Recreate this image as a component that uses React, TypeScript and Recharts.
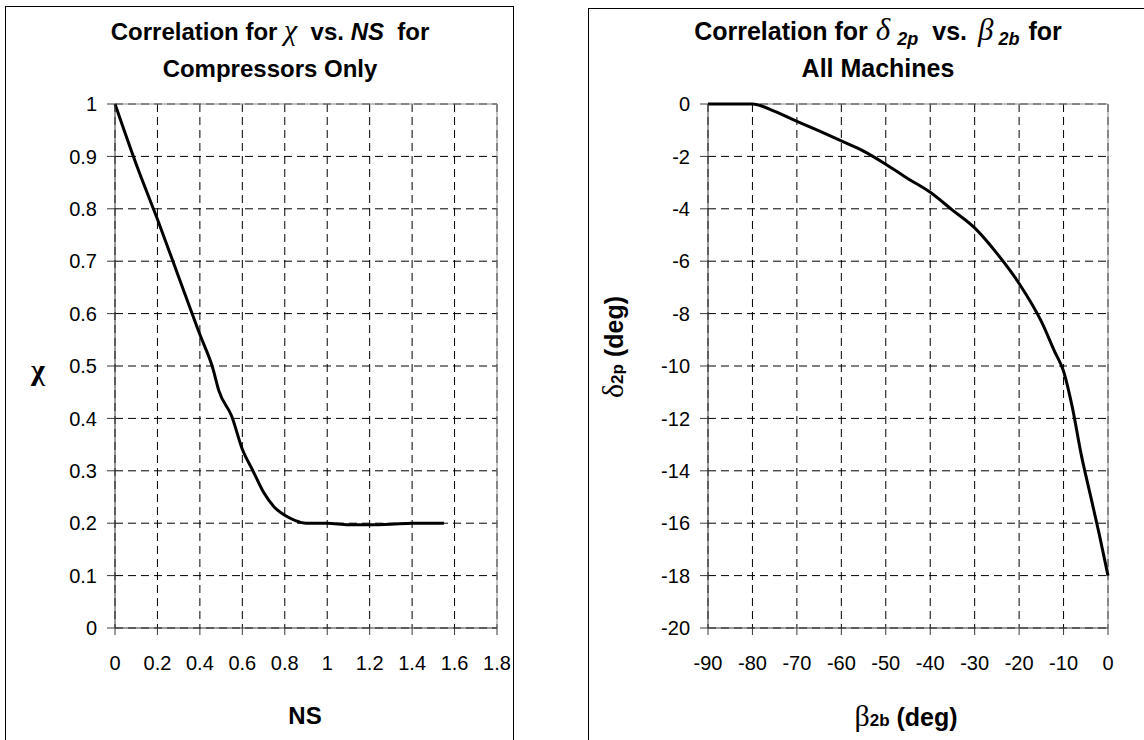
import { LineChart, Line, XAxis, YAxis, CartesianGrid, ReferenceLine } from 'recharts'

// left chart: chi vs NS (compressors only)
const nsValues = [0, 0.1, 0.2, 0.3, 0.4, 0.46, 0.49, 0.55, 0.6, 0.65, 0.7, 0.75, 0.8, 0.85, 0.9, 1.0, 1.1, 1.2, 1.3, 1.4, 1.55]
const chiValues = [1, 0.885, 0.78, 0.67, 0.56, 0.497, 0.452, 0.404, 0.341, 0.3, 0.259, 0.231, 0.215, 0.205, 0.2, 0.2, 0.197, 0.197, 0.198, 0.2, 0.2]
const nsTicks = [0, 0.2, 0.4, 0.6, 0.8, 1, 1.2, 1.4, 1.6, 1.8]
const chiTicks = [0, 0.1, 0.2, 0.3, 0.4, 0.5, 0.6, 0.7, 0.8, 0.9, 1]

// right chart: delta_2p vs beta_2b (all machines)
const betaValues = [-90, -85, -80, -75, -70, -65, -60, -55, -50, -45, -40, -35, -30, -25, -20, -15, -12, -10, -8, -6, -4, -2, 0]
const deltaValues = [0, 0, 0, -0.28, -0.66, -1.03, -1.41, -1.8, -2.3, -2.85, -3.37, -4.05, -4.73, -5.7, -6.85, -8.3, -9.45, -10.2, -11.6, -13.4, -14.9, -16.4, -18]
const betaTicks = [-90, -80, -70, -60, -50, -40, -30, -20, -10, 0]
const deltaTicks = [-20, -18, -16, -14, -12, -10, -8, -6, -4, -2, 0]

const FONT = '"Liberation Sans", Arial, sans-serif'
const AXIS = '#3a3a3a'
const BORDER = '#8c8c8c'
const tickStyle = { fill: '#000', fontSize: 20, fontFamily: FONT }

const greek = { fontFamily: '"Liberation Serif", serif', fontStyle: 'italic' as const, fontWeight: 400 }
const sub = { fontSize: 18, fontStyle: 'italic' as const, verticalAlign: '-0.3em', lineHeight: 0 }

export default function App() {
  const leftData = nsValues.map((x, i) => ({ x, y: chiValues[i] }))
  const rightData = betaValues.map((x, i) => ({ x, y: deltaValues[i] }))

  return (
    <div style={{ position: 'fixed', left: 0, top: 0, width: 1144, height: 740, overflow: 'hidden', background: '#fff', fontFamily: FONT, color: '#000' }}>
      {/* panel frames */}
      <div style={{ position: 'absolute', left: 5, top: 6, width: 509, height: 800, border: '1px solid #000', boxSizing: 'border-box' }} />
      <div style={{ position: 'absolute', left: 588, top: 8, width: 600, height: 800, border: '1px solid #000', boxSizing: 'border-box' }} />

      <div style={{ position: 'absolute', left: 0, top: 0 }}>
        <LineChart width={513} height={740} data={leftData} margin={{ top: 104, right: 16, bottom: 72, left: 0 }}>
          <CartesianGrid stroke="#000" strokeDasharray="8 5" />
          <XAxis
            dataKey="x"
            type="number"
            domain={[0, 1.8]}
            ticks={nsTicks}
            height={40}
            stroke={AXIS}
            tickSize={7}
            tickMargin={21}
            tick={tickStyle}
          />
          <YAxis
            type="number"
            domain={[0, 1]}
            ticks={chiTicks}
            width={115}
            stroke={AXIS}
            tickSize={8}
            tickMargin={10}
            tick={tickStyle}
          />
          <ReferenceLine y={1} stroke={BORDER} />
          <ReferenceLine x={1.8} stroke={BORDER} />
          <Line type="monotone" dataKey="y" stroke="#000" strokeWidth={3} dot={false} isAnimationActive={false} />
        </LineChart>
      </div>

      <div style={{ position: 'absolute', left: 570, top: 0 }}>
        <LineChart width={574} height={740} data={rightData} margin={{ top: 104, right: 36, bottom: 72, left: 0 }}>
          <CartesianGrid stroke="#000" strokeDasharray="8 5" />
          <XAxis
            dataKey="x"
            type="number"
            domain={[-90, 0]}
            ticks={betaTicks}
            height={40}
            stroke={AXIS}
            tickSize={7}
            tickMargin={21}
            tick={tickStyle}
          />
          <YAxis
            type="number"
            domain={[-20, 0]}
            ticks={deltaTicks}
            width={138}
            stroke={AXIS}
            tickSize={8}
            tickMargin={10}
            tick={tickStyle}
          />
          <ReferenceLine y={0} stroke={BORDER} />
          <ReferenceLine x={0} stroke={BORDER} />
          <Line type="monotone" dataKey="y" stroke="#000" strokeWidth={3} dot={false} isAnimationActive={false} />
        </LineChart>
      </div>

      {/* titles */}
      <div style={{ position: 'absolute', left: 20, top: 11, width: 500, textAlign: 'center', fontWeight: 700, fontSize: 24, lineHeight: '37px', whiteSpace: 'nowrap' }}>
        <div>Correlation for <span style={{ ...greek, fontSize: 30 }}>χ</span>&nbsp; vs. <i>NS</i>&nbsp; for</div>
        <div>Compressors Only</div>
      </div>
      <div style={{ position: 'absolute', left: 628, top: 11, width: 500, textAlign: 'center', fontWeight: 700, fontSize: 25, lineHeight: '37px', whiteSpace: 'nowrap' }}>
        <div>
          Correlation for
          <span style={{ ...greek, fontSize: 31, marginLeft: 8 }}>δ</span>
          <span style={{ ...sub, marginLeft: 7 }}>2p</span>
          <span style={{ marginLeft: 14 }}>vs.</span>
          <span style={{ ...greek, fontSize: 31, marginLeft: 11 }}>β</span>
          <span style={{ ...sub, marginLeft: 5 }}>2b</span>
          <span style={{ marginLeft: 9 }}>for</span>
        </div>
        <div>All Machines</div>
      </div>

      {/* axis titles */}
      <div style={{ position: 'absolute', left: 38, top: 370, transform: 'translate(-50%, -50%)', fontWeight: 700, fontSize: 30, fontFamily: '"Liberation Serif", serif' }}>χ</div>
      <div style={{ position: 'absolute', left: 305, top: 716, transform: 'translate(-50%, -50%)', fontWeight: 700, fontSize: 24 }}>NS</div>
      <div style={{ position: 'absolute', left: 613, top: 347, transform: 'translate(-50%, -50%) rotate(-90deg)', fontWeight: 700, fontSize: 25, whiteSpace: 'nowrap' }}>
        <span style={{ fontFamily: '"Liberation Serif", serif', fontWeight: 400, fontSize: 30 }}>δ</span><span style={{ fontSize: 17 }}>2p</span> (deg)
      </div>
      <div style={{ position: 'absolute', left: 906, top: 716, transform: 'translate(-50%, -50%)', fontWeight: 700, fontSize: 25, whiteSpace: 'nowrap' }}>
        <span style={{ fontFamily: '"Liberation Serif", serif', fontWeight: 400, fontSize: 30 }}>β</span><span style={{ fontSize: 17 }}>2b</span> (deg)
      </div>
    </div>
  )
}
